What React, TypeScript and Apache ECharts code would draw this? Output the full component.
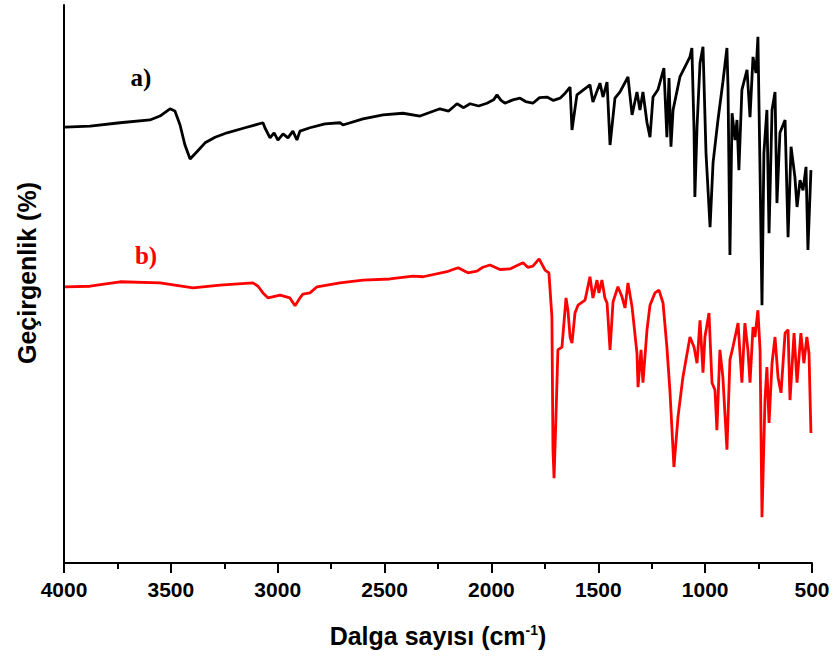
import React, { useEffect, useRef } from "react";
import * as echarts from "echarts";

// Spectrum a) (black) — wavenumber (cm-1) and transmittance (arbitrary %)
const waveA = [
  3995, 3878, 3738, 3598, 3551, 3504, 3481, 3457, 3434, 3410, 3378, 3340, 3293, 3237, 3153,
  3069, 3060, 3036, 3017, 2999, 2975, 2952, 2929, 2910, 2896, 2849, 2779, 2709, 2695, 2601,
  2507, 2414, 2334, 2241, 2200, 2161, 2130, 2100, 2060, 2021, 1990, 1974, 1955, 1937, 1900,
  1866, 1840, 1806, 1775, 1740, 1710, 1679, 1655, 1632, 1623,
  1600, 1539, 1525, 1492, 1478, 1459, 1445, 1422, 1399, 1361, 1342, 1319, 1305, 1291, 1272,
  1258, 1244, 1221, 1193, 1179, 1169, 1160, 1150, 1118, 1071, 1062, 1052, 1048, 1038, 1024,
  1010, 996, 977, 963, 940, 917, 898, 893, 884, 874, 860, 851, 842, 828, 804,
  790, 776, 762, 753, 743, 734, 725, 711, 701, 687, 673, 664, 650, 626, 612,
  598, 580, 570, 556, 542, 528, 519, 505,
];
const transA = [
  78.1, 78.3, 78.9, 79.4, 80.1, 81.4, 81.0, 78.5, 74.9, 72.4, 73.7, 75.3, 76.3, 77.1, 78.0,
  78.9, 78.0, 76.2, 77.1, 75.8, 76.9, 76.2, 77.4, 75.8, 77.4, 78.0, 78.7, 78.9, 78.5, 79.6,
  80.3, 80.6, 80.1, 81.4, 81.0, 82.3, 81.6, 82.3, 81.9, 82.4, 83.0, 83.9, 82.9, 82.4, 83.0,
  83.3, 82.7, 82.4, 83.4, 83.5, 82.9, 83.3, 84.2, 85.3, 77.6,
  83.9, 85.7, 82.6, 86.0, 83.5, 86.2, 74.9, 83.3, 84.4, 87.1, 80.3, 84.4, 81.2, 84.4, 78.9,
  76.3, 83.5, 84.8, 88.7, 76.3, 86.9, 74.6, 81.2, 87.1, 90.7, 92.3, 77.6, 65.6, 78.1, 89.6,
  92.5, 73.5, 60.2, 71.7, 79.4, 86.2, 92.3, 85.3, 55.2, 80.6, 75.8, 79.4, 70.4, 84.8, 88.4,
  79.9, 90.7, 87.8, 94.3, 69.9, 46.2, 73.5, 81.2, 59.1, 81.2, 84.4, 64.5, 77.1, 79.4, 58.4,
  74.6, 69.2, 63.8, 68.6, 66.8, 71.0, 56.1, 70.4,
];

// Spectrum b) (red)
const waveB = [
  3995, 3878, 3738, 3551, 3396, 3270, 3116, 3092, 3069, 3045, 2989, 2943, 2919, 2896, 2882,
  2849, 2816, 2709, 2601, 2475, 2367, 2320, 2208, 2180, 2156, 2110, 2068, 2040, 2007, 1960,
  1913, 1880, 1852, 1830, 1806, 1777,
  1749, 1731, 1717, 1712, 1707, 1698, 1689, 1670, 1651, 1642, 1632, 1623, 1609, 1595, 1562,
  1539, 1525, 1506, 1497, 1483, 1469, 1459, 1445, 1431, 1408, 1389, 1375, 1361, 1342, 1319,
  1314, 1300, 1291, 1272, 1258, 1235, 1216, 1197, 1179, 1165, 1146, 1127, 1104, 1071, 1052,
  1038, 1024, 1010, 1001, 982, 968, 954, 945, 931, 917, 898, 884, 870, 846, 828,
  814, 800, 790, 776, 767, 753, 743, 734, 720, 711, 701, 687, 673, 659, 645,
  626, 612, 603, 584, 570, 552, 538, 524, 514, 505,
];
const transB = [
  49.5, 49.6, 50.4, 50.2, 49.3, 49.8, 50.2, 49.6, 48.4, 47.5, 48.0, 47.5, 46.1, 47.5, 48.2,
  48.4, 49.5, 50.2, 50.7, 50.9, 51.4, 51.3, 52.2, 52.6, 52.9, 52.0, 52.3, 53.0, 53.4, 52.6,
  52.7, 53.3, 53.8, 53.0, 53.2, 54.5,
  52.5, 52.0, 44.1, 20.3, 15.2, 26.2, 38.2, 38.7, 47.5, 45.3, 40.5, 39.4, 44.8, 46.2, 47.1,
  51.3, 47.5, 50.7, 48.4, 50.7, 47.5, 46.6, 38.2, 46.8, 49.5, 47.7, 45.7, 50.2, 45.9, 37.6,
  31.5, 38.2, 32.3, 41.8, 46.2, 48.4, 48.9, 46.6, 38.7, 31.0, 17.2, 26.2, 33.3, 40.5, 38.7,
  35.8, 43.5, 34.1, 40.5, 44.8, 32.3, 31.0, 23.8, 38.2, 33.3, 20.3, 36.4, 38.7, 43.0, 32.3,
  43.0, 38.2, 32.3, 42.3, 40.5, 45.3, 38.2, 8.2, 29.2, 35.1, 25.1, 35.8, 40.5, 33.3, 30.5,
  41.2, 41.8, 29.2, 41.2, 32.3, 41.2, 35.8, 40.5, 37.6, 23.3,
];

const xMin = 500;
const xMax = 4000;
const xStep = 500;

const sansFont = "'Liberation Sans', Arial, sans-serif";
const serifFont = "'Liberation Serif', 'Times New Roman', serif";

export default function App() {
  const ref = useRef<HTMLDivElement>(null);

  useEffect(() => {
    document.body.style.margin = "0";
    const chart = echarts.init(ref.current as HTMLDivElement, null, { renderer: "svg" });
    const dataA = waveA.map((w, i) => [w, transA[i]]);
    const dataB = waveB.map((w, i) => [w, transB[i]]);

    chart.setOption({
      animation: false,
      backgroundColor: "#ffffff",
      grid: { left: 64, right: 23, top: 5, bottom: 95, outerBoundsMode: "none" },
      xAxis: {
        type: "value",
        inverse: true,
        min: xMin,
        max: xMax,
        interval: xStep,
        name: "Dalga sayısı (cm{sup|-1})",
        nameLocation: "middle",
        nameGap: 60,
        nameTextStyle: {
          fontFamily: sansFont,
          fontSize: 25,
          fontWeight: "bold",
          color: "#000",
          rich: {
            sup: {
              fontFamily: sansFont,
              fontSize: 14,
              fontWeight: "bold",
              color: "#000",
              verticalAlign: "top",
            },
          },
        },
        axisLine: { show: true, onZero: false, lineStyle: { color: "#000", width: 2 } },
        axisTick: { show: true, length: 10, lineStyle: { color: "#000", width: 2 } },
        minorTick: { show: true, splitNumber: 2, length: 6, lineStyle: { color: "#000", width: 2 } },
        splitLine: { show: false },
        minorSplitLine: { show: false },
        axisLabel: {
          fontFamily: sansFont,
          fontSize: 21,
          fontWeight: "bold",
          color: "#000",
          margin: 16,
          showMinLabel: true,
          showMaxLabel: true,
          formatter: (v: number) => String(v),
        },
      },
      yAxis: {
        type: "value",
        min: 0,
        max: 100,
        axisLine: { show: true, onZero: false, lineStyle: { color: "#000", width: 2 } },
        axisTick: { show: false },
        axisLabel: { show: false },
        splitLine: { show: false },
      },
      graphic: [
        {
          type: "text",
          x: 27,
          y: 273,
          rotation: Math.PI / 2,
          style: {
            text: "Geçirgenlik (%)",
            fontFamily: sansFont,
            fontSize: 25,
            fontWeight: "bold",
            fill: "#000",
            align: "center",
            verticalAlign: "middle",
          },
        },
        {
          type: "text",
          x: 141,
          y: 77,
          style: {
            text: "a)",
            fontFamily: serifFont,
            fontSize: 25,
            fontWeight: "bold",
            fill: "#000",
            align: "center",
            verticalAlign: "middle",
          },
        },
        {
          type: "text",
          x: 146,
          y: 255,
          style: {
            text: "b)",
            fontFamily: serifFont,
            fontSize: 25,
            fontWeight: "bold",
            fill: "#ff0000",
            align: "center",
            verticalAlign: "middle",
          },
        },
      ],
      series: [
        {
          name: "a)",
          type: "line",
          data: dataA,
          showSymbol: false,
          lineStyle: { color: "#000000", width: 2.8 },
          itemStyle: { color: "#000000" },
        },
        {
          name: "b)",
          type: "line",
          data: dataB,
          showSymbol: false,
          lineStyle: { color: "#ff0000", width: 2.8 },
          itemStyle: { color: "#ff0000" },
        },
      ],
    });

    return () => {
      chart.dispose();
    };
  }, []);

  return <div ref={ref} style={{ width: 835, height: 658 }} />;
}
